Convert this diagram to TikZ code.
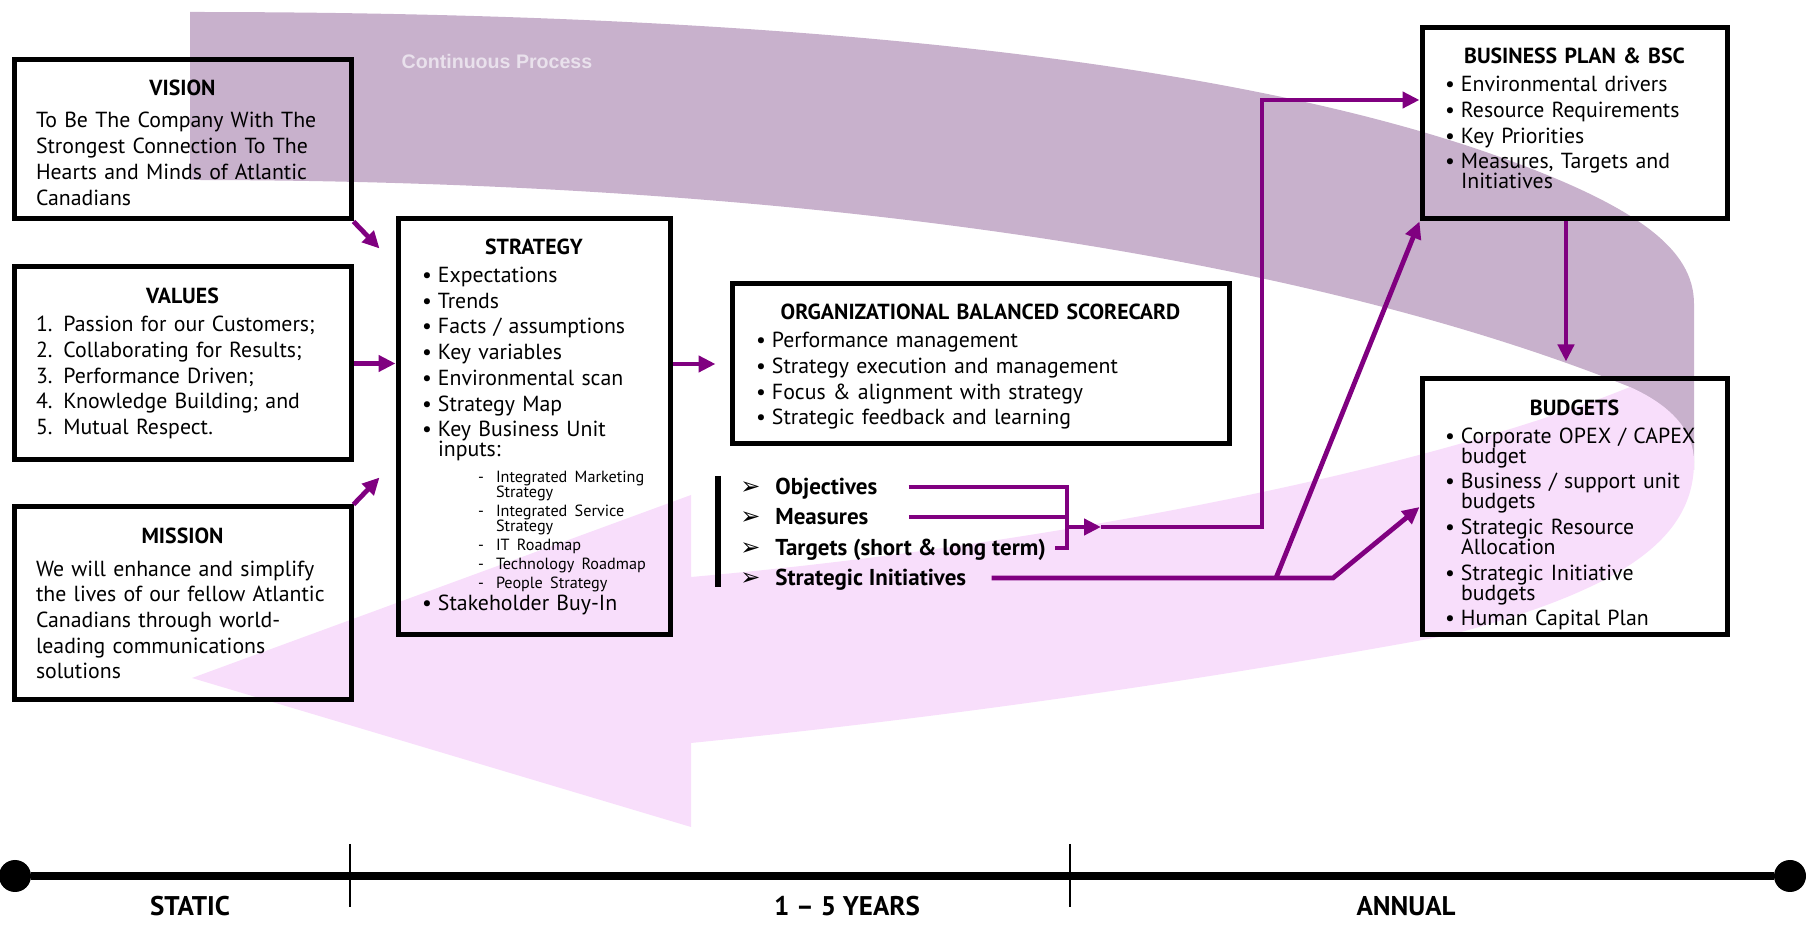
\documentclass[tikz,border=0pt]{standalone}
\usepackage{fontspec}
\setmainfont{PT Sans}
\newfontfamily\dingfont{DejaVu Sans}
\newfontfamily\procfont{Liberation Sans}
\usetikzlibrary{arrows.meta}
\usetikzlibrary{calc}

\definecolor{linepurple}{RGB}{128,0,128}
\definecolor{procdark}{RGB}{200,177,204}
\definecolor{procpink}{RGB}{248,222,251}
\definecolor{proctext}{RGB}{233,225,236}

\newcommand{\boxfont}{\fontsize{10.9pt}{12.85pt}\selectfont}
\newcommand{\subfont}{\fontsize{8.1pt}{12.85pt}\selectfont}
\newcommand{\boxtitle}[2][0pt]{\hfill\rule{0pt}{#1}\textbf{#2}\hfill\null}
\newcommand{\padbot}[1]{\rule[-#1]{0pt}{#1}}
\newcommand{\bul}{\makebox[8pt][l]{\textbullet}}
\newcommand{\bulind}{\hspace*{8pt}}
\newcommand{\subitm}{\hspace*{28pt}\makebox[9pt][l]{-}}
\newcommand{\subind}{\hspace*{37pt}}
\newcommand{\listarrow}{\makebox[17.5pt][l]{\dingfont\fontsize{12pt}{12pt}\selectfont ➢}}

\begin{document}
\begin{tikzpicture}[x=0.5pt,y=-0.5pt]
\tikzstyle{block} = [rectangle, draw=black, line width=2.5pt, inner sep=0pt, align=left, font=\boxfont]
\tikzstyle{listitem} = [anchor=west, inner sep=0pt, text height=7.5pt, text depth=0pt, font=\fontsize{11.5pt}{13pt}\selectfont\bfseries]
\tikzstyle{line} = [draw, line width=2.4pt, color=linepurple, -{Triangle[length=8.5pt,width=8pt]}]
\tikzstyle{tdot} = [circle, fill=black, inner sep=0pt, minimum size=16pt]
\tikzstyle{tickmark} = [line width=0.8pt]
\tikzstyle{period} = [anchor=base, inner sep=0pt, font=\fontsize{13.5pt}{16pt}\selectfont\bfseries]
\tikzstyle{proclabel} = [inner sep=0pt, text=proctext, font=\procfont\fontsize{9.8pt}{12pt}\selectfont\bfseries]
\useasboundingbox (0,0) rectangle (1816,929);

% continuous process ribbon
\fill[procdark] (190,12) .. controls (750,12) and (1200,55) .. (1480,150)
  .. controls (1640,205) and (1694,250) .. (1694,304) -- (1694,470) -- (1630,387)
  .. controls (1250,235) and (700,180) .. (190,180) -- cycle;
\fill[procpink] (1630,387) .. controls (1670,405) and (1694,430) .. (1694,462)
  .. controls (1694,540) and (1620,590) .. (1450,635)
  .. controls (1150,690) and (900,722) .. (691,743) -- (691,827) -- (192,678)
  -- (691,495) -- (691,577) .. controls (1000,550) and (1400,480) .. (1630,387) -- cycle;
\node[proclabel] (proc) at (497,62) {Continuous Process};

% boxes
\node [block, minimum width=168.5pt, minimum height=79.5pt, text width=146.5pt] (vision) at (182.5,139.5)
  {\boxtitle[11.1pt]{VISION}\\[3.15pt]
   To Be The Company With The\\ Strongest Connection To The\\ Hearts and Minds of Atlantic\\ Canadians};
\node [block, minimum width=168.5pt, minimum height=96.5pt, text width=146.5pt] (values) at (182.5,363.5)
  {\boxtitle{VALUES}\\[1.15pt]
   1. Passion for our Customers;\\ 2. Collaborating for Results;\\ 3. Performance Driven;\\
   4. Knowledge Building; and\\ 5. Mutual Respect.};
\node [block, minimum width=168.5pt, minimum height=96.5pt, text width=146.5pt] (mission) at (182.5,603.5)
  {\boxtitle{MISSION}\\[3.6pt]
   We will enhance and simplify\\ the lives of our fellow Atlantic\\ Canadians through world-\\
   leading communications\\ solutions};
\node [block, minimum width=136pt, minimum height=208pt, text width=112pt] (strat) at (534,427)
  {\boxtitle{STRATEGY}\\[1.15pt]
   \bul Expectations\\ \bul Trends\\ \bul Facts / assumptions\\ \bul Key variables\\
   \bul Environmental scan\\ \bul Strategy Map\\ \bul Key Business Unit\\[-2.85pt] \bulind inputs:\\
   {\subfont\subitm Integrated Marketing}\\[-5.35pt] {\subfont\subind Strategy}\\[-3.35pt]
   {\subfont\subitm Integrated Service}\\[-5.35pt] {\subfont\subind Strategy}\\[-3.35pt]
   {\subfont\subitm IT Roadmap}\\[-3.35pt]
   {\subfont\subitm Technology Roadmap}\\[-3.35pt]
   {\subfont\subitm People Strategy}\\[-1.85pt]
   \bul Stakeholder Buy-In};
\node [block, minimum width=248.5pt, minimum height=80pt, text width=224.5pt] (obs) at (980.5,364)
  {\boxtitle[10.6pt]{ORGANIZATIONAL BALANCED SCORECARD}\\[1.15pt]
   \bul Performance management\\ \bul Strategy execution and management\\
   \bul Focus \& alignment with strategy\\ \bul Strategic feedback and learning};
\node [block, minimum width=152.5pt, minimum height=95.5pt, text width=129.5pt] (bp) at (1574.5,123.5)
  {\boxtitle{BUSINESS PLAN \& BSC}\\[1.15pt]
   \bul Environmental drivers\\ \bul Resource Requirements\\ \bul Key Priorities\\
   \bul Measures, Targets and\\[-2.85pt] \bulind Initiatives\padbot{5pt}};
\node [block, minimum width=152.5pt, minimum height=128pt, text width=129.5pt] (bud) at (1574.5,507)
  {\boxtitle[15.6pt]{BUDGETS}\\[1.15pt]
   \bul Corporate OPEX / CAPEX\\[-2.85pt] \bulind budget\\
   \bul Business / support unit\\[-2.85pt] \bulind budgets\\
   \bul Strategic Resource\\[-2.85pt] \bulind Allocation\\
   \bul Strategic Initiative\\[-2.85pt] \bulind budgets\\
   \bul Human Capital Plan};

% scorecard elements
\draw[line width=3pt] (718,476) -- (718,587);
\node[listitem] (obj) at (740,487) {\listarrow Objectives};
\node[listitem] (meas) at (740,517) {\listarrow Measures};
\node[listitem] (targ) at (740,548) {\listarrow Targets (short \& long term)};
\node[listitem] (init) at (740,578) {\listarrow Strategic Initiatives};

% time line
\node[tdot] (t0) at (15,876) {};
\node[tdot] (t1) at (1790,876) {};
\draw[line width=4.2pt] (t0) -- (t1);
\draw[tickmark] (350,844) -- (350,907);
\draw[tickmark] (1070,844) -- (1070,907);
\node[period] (static) at (190,916) {STATIC};
\node[period] (years) at (847,916) {1 – 5 YEARS};
\node[period] (annual) at (1406,916) {ANNUAL};

\coordinate (join) at (1067,527);
\coordinate (joinend) at (1101,527);
\coordinate (fork) at (1276,578);
\coordinate (bend) at (1333,578);

\tikzstyle{every path}=[line]
\path (vision.south east) -- ($(strat.north west)+(-16,32)$);
\path (values.east) -- (strat.west |- values.east);
\path (mission.north east) -- ($(strat.south west)+(-16,-160)$);
\path (strat.east |- obs.west) -- ([xshift=-7pt]obs.west);
\path[-] ([xshift=15.5pt]obj.east) -| (join |- targ.east) -- ([xshift=4.5pt]targ.east);
\path[-] ([xshift=20pt]meas.east) -- (join |- meas.east);
\path (join) -- (joinend);
\path (joinend) -- ++(161,0) |- ($(bp.west)+(0,-23.5)$);
\path ([xshift=12.5pt]init.east) -- (bend) -- (bud.west);
\path (fork) -- (bp.south west);
\path ([xshift=-4.25pt]bp.south) -- ([xshift=-4.25pt,yshift=7.5pt]bud.north);
\end{tikzpicture}
\end{document}
